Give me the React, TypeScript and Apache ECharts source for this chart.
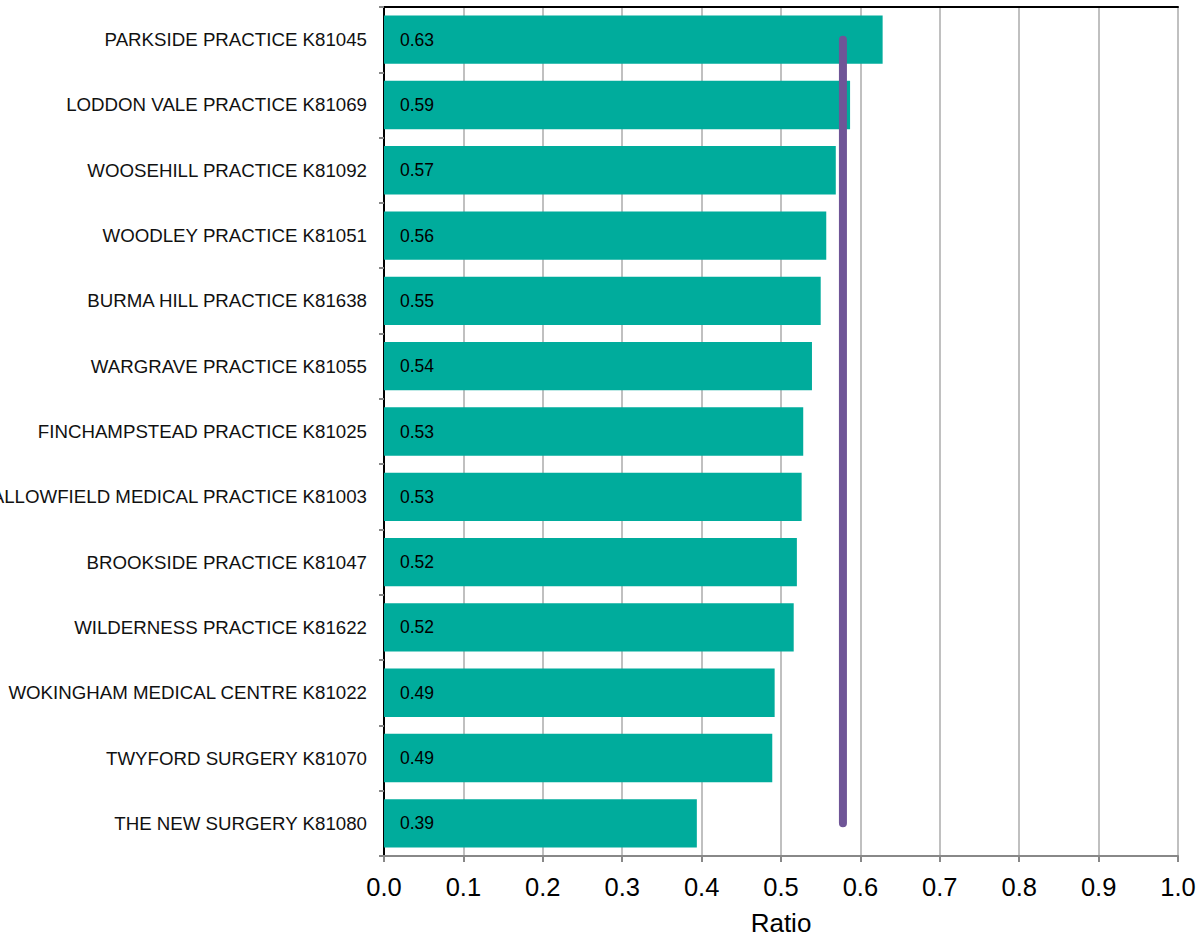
import React, { useEffect, useRef } from "react";
import * as echarts from "echarts";

const practices = [
  "PARKSIDE PRACTICE K81045",
  "LODDON VALE PRACTICE K81069",
  "WOOSEHILL PRACTICE K81092",
  "WOODLEY PRACTICE K81051",
  "BURMA HILL PRACTICE K81638",
  "WARGRAVE PRACTICE K81055",
  "FINCHAMPSTEAD PRACTICE K81025",
  "SWALLOWFIELD MEDICAL PRACTICE K81003",
  "BROOKSIDE PRACTICE K81047",
  "WILDERNESS PRACTICE K81622",
  "WOKINGHAM MEDICAL CENTRE K81022",
  "TWYFORD SURGERY K81070",
  "THE NEW SURGERY K81080",
];
const ratios = [0.628, 0.587, 0.569, 0.557, 0.55, 0.539, 0.528, 0.526, 0.52, 0.516, 0.492, 0.489, 0.394];
const averageRatio = 0.578;
const xTicks = [0, 0.1, 0.2, 0.3, 0.4, 0.5, 0.6, 0.7, 0.8, 0.9, 1.0];

export default function App() {
  const ref = useRef<HTMLDivElement>(null);
  useEffect(() => {
    if (!ref.current) return;
    const chart = echarts.init(ref.current, undefined, { renderer: "svg" });
    const font = "Liberation Sans, Arial, sans-serif";
    const xMin = xTicks[0];
    const xMax = xTicks[xTicks.length - 1];
    chart.setOption({
      animation: false,
      textStyle: { fontFamily: font },
      grid: {
        left: 384,
        right: 21,
        top: 7,
        bottom: 83,
        containLabel: false,
        outerBoundsMode: "none",
      },
      xAxis: [
        {
          type: "value",
          min: xMin,
          max: xMax,
          interval: 0.1,
          position: "bottom",
          name: "Ratio",
          nameLocation: "middle",
          nameGap: 54,
          nameTextStyle: { fontSize: 26, color: "#000", fontFamily: font },
          axisLine: { show: true, lineStyle: { color: "#888", width: 2 } },
          axisTick: { show: true, length: 6, lineStyle: { color: "#888", width: 2 } },
          axisLabel: {
            fontSize: 25.5,
            color: "#000",
            margin: 18,
            fontFamily: font,
            formatter: (v: number) => v.toFixed(1),
          },
          splitLine: { show: true, lineStyle: { color: "#c0c0c0", width: 2 } },
        },
        {
          type: "value",
          min: xMin,
          max: xMax,
          interval: 0.1,
          position: "top",
          axisLine: { show: true, lineStyle: { color: "#000", width: 2 } },
          axisTick: { show: false },
          axisLabel: { show: false },
          splitLine: { show: false },
        },
      ],
      yAxis: [
        {
          type: "category",
          data: practices,
          inverse: true,
          position: "left",
          axisLine: { show: true, lineStyle: { color: "#888", width: 2 } },
          axisTick: { show: true, length: 5, lineStyle: { color: "#888", width: 2 } },
          axisLabel: { fontSize: 18.7, color: "#111", margin: 17, fontFamily: font },
          splitLine: { show: false },
        },
        {
          type: "category",
          data: practices,
          inverse: true,
          position: "right",
          axisLine: { show: true, lineStyle: { color: "#000", width: 2 } },
          axisTick: { show: false },
          axisLabel: { show: false },
          splitLine: { show: false },
        },
      ],
      series: [
        {
          type: "bar",
          data: ratios,
          xAxisIndex: 0,
          yAxisIndex: 0,
          barCategoryGap: "26%",
          itemStyle: { color: "#00ac9c" },
          label: {
            show: true,
            position: "insideLeft",
            distance: 16,
            fontSize: 17.5,
            color: "#000",
            fontFamily: font,
            formatter: (p: any) => Number(p.value).toFixed(2),
          },
          z: 2,
        },
        {
          type: "line",
          data: practices.map(() => averageRatio),
          xAxisIndex: 0,
          yAxisIndex: 0,
          symbol: "none",
          lineStyle: { color: "#6f5597", width: 8, cap: "round" },
          z: 5,
        },
      ],
    });
    return () => chart.dispose();
  }, []);
  return (
    <div
      ref={ref}
      style={{ position: "absolute", left: 0, top: 0, width: 1199, height: 939 }}
    />
  );
}
